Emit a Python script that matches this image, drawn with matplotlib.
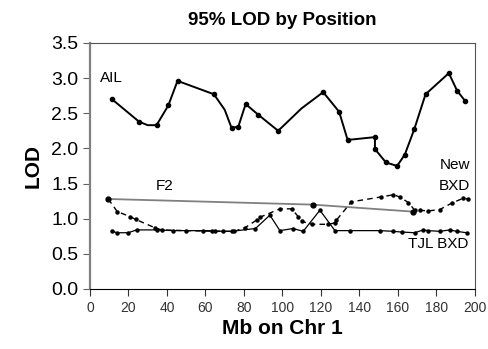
import matplotlib
matplotlib.use("Agg")
import matplotlib.pyplot as plt

plt.rcParams['font.family'] = ['Liberation Sans', 'DejaVu Sans']

# AIL
ail_x = [11.4, 25.5, 30.0, 34.6, 40.7, 45.5, 64.4, 70.0, 73.6, 77.1, 80.9, 87.4, 97.8,
         110, 121.2, 129.5, 133.9, 148.1, 148.1, 153.8, 159.6, 163.6, 168.5,
         174.4, 186.5, 190.8, 194.8]
ail_y = [2.70, 2.38, 2.33, 2.33, 2.61, 2.96, 2.77, 2.55, 2.29, 2.31, 2.63, 2.48, 2.25,
         2.57, 2.80, 2.52, 2.12, 2.16, 1.99, 1.80, 1.75, 1.91, 2.27,
         2.77, 3.07, 2.82, 2.68]
ail_marked = [0, 1, 3, 4, 5, 6, 8, 9, 10, 11, 12, 14, 15, 16, 17, 18, 19, 20, 21,
              22, 23, 24, 25, 26]

# F2
f2_x = [9.5, 115.7, 168.0]
f2_y = [1.28, 1.20, 1.10]

# New BXD
new_x = [9.5, 14.2, 20.8, 23.7, 33.8, 37.2, 50, 65, 75, 80.5, 86.6, 88.3,
         98.7, 104.8, 108.2, 110.4, 115.2, 123.8, 127.3, 128.1, 135.9, 151.5,
         157.6, 161.0, 165.4, 168.8, 171.4, 175.7, 181.8, 187.9, 193.9, 196.5]
new_y = [1.28, 1.10, 1.03, 0.99, 0.87, 0.84, 0.83, 0.82, 0.82, 0.87, 0.98, 1.02,
         1.14, 1.14, 1.03, 0.96, 0.92, 0.92, 0.94, 0.98, 1.24, 1.31,
         1.34, 1.31, 1.23, 1.12, 1.12, 1.11, 1.13, 1.22, 1.29, 1.28]

# TJL BXD
tjl_x = [11.2, 13.8, 19.9, 24.2, 34.6, 43.3, 58.9, 63.2, 69.3, 73.6, 86.0,
         93.5, 98.7, 105.6, 110.8, 119.5, 127.3, 135.0, 150.6, 157.6, 161.9,
         168.8, 173.2, 175.7, 181.8, 187.0, 190.5, 195.7]
tjl_y = [0.83, 0.80, 0.80, 0.84, 0.84, 0.83, 0.83, 0.83, 0.82, 0.82, 0.86,
         1.05, 0.83, 0.86, 0.82, 1.12, 0.83, 0.83, 0.83, 0.82, 0.81,
         0.80, 0.84, 0.83, 0.82, 0.84, 0.82, 0.80]

fig = plt.figure(figsize=(4.89, 3.49), dpi=100)
ax = fig.add_axes([0.184, 0.172, 0.787, 0.705])

ax.plot(f2_x, f2_y, color='#808080', lw=1.3, marker='o', markersize=3.5,
        markerfacecolor='black', markeredgecolor='black')
ax.plot(tjl_x, tjl_y, color='black', lw=0.9, marker='o', markersize=2.2)
ax.plot(new_x, new_y, color='black', lw=1.0, ls=(0, (4, 3)), marker='o', markersize=2.2)
ax.plot(ail_x, ail_y, color='black', lw=1.4, marker='o', markersize=3,
        markevery=ail_marked)

ax.text(5.2, 3.0, "AIL", fontsize=11, va='center', ha='left')
ax.text(39, 1.47, "F2", fontsize=11, va='center', ha='center')
ax.text(189.5, 1.76, "New", fontsize=11, va='center', ha='center')
ax.text(189.5, 1.47, "BXD", fontsize=11, va='center', ha='center')
ax.text(181, 0.64, "TJL BXD", fontsize=11, va='center', ha='center')

ax.set_xlim(0, 200)
ax.set_ylim(0, 3.5)
ax.set_xticks(range(0, 201, 20))
ax.set_yticks([0.0, 0.5, 1.0, 1.5, 2.0, 2.5, 3.0, 3.5])
ax.set_yticklabels([f"{v:.1f}" for v in ax.get_yticks()])
ax.tick_params(axis='y', direction='out', length=5, labelsize=14, color='#606060')
ax.tick_params(axis='x', direction='out', length=5, labelsize=10, colors='#333333')

ax.spines['left'].set_color('#808080')
ax.spines['left'].set_linewidth(1.6)
ax.spines['bottom'].set_color('black')
ax.spines['top'].set_color('#555555')
ax.spines['right'].set_color('#555555')

ax.set_title("95% LOD by Position", fontsize=13.5, fontweight='bold', pad=13)
ax.set_xlabel("Mb on Chr 1", fontsize=15, fontweight='bold', labelpad=3)
ax.set_ylabel("LOD", fontsize=15, fontweight='bold', labelpad=6)

fig.savefig("out.png", dpi=100)
